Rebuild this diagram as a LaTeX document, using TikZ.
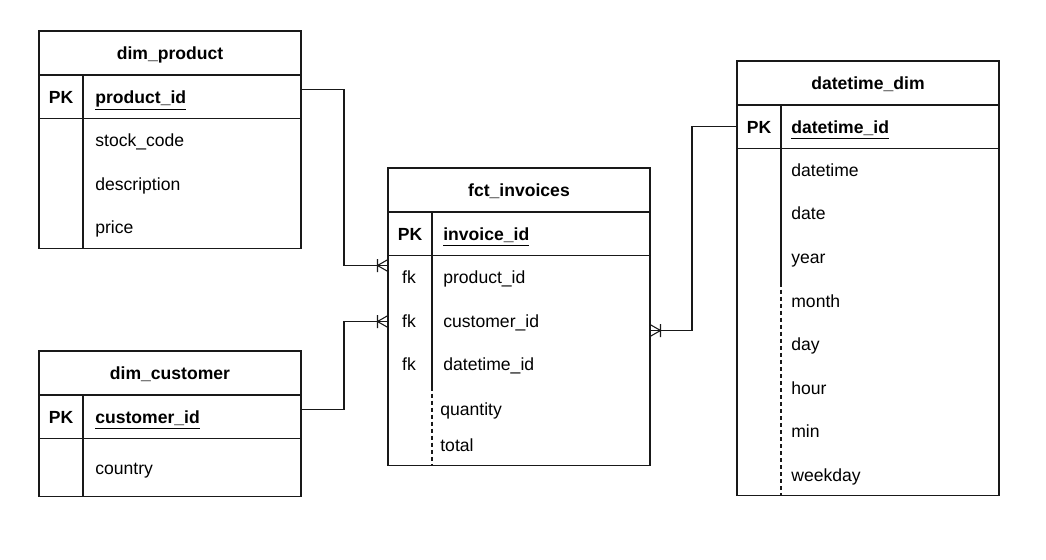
\documentclass[tikz,border=0pt]{standalone}
\usepackage{fontspec}
\setmainfont{Liberation Sans}
\usetikzlibrary{positioning,calc}
\definecolor{erline}{RGB}{25,25,25}
\tikzset{
  tablebox/.style={rectangle, draw=erline, line width=0.6pt, minimum width=5.24cm,
    inner sep=0pt, outer sep=0pt},
  headrow/.style={tablebox, minimum height=0.88cm, font=\bfseries,
    text height=8.5pt, text depth=1pt},
  keyrow/.style={tablebox, minimum height=0.87cm},
  bodyrow/.style={tablebox},
  keytag/.style={inner sep=0pt, font=\bfseries, text height=8.5pt, text depth=1pt},
  fktag/.style={inner sep=0pt, text height=8.5pt, text depth=1pt},
  field/.style={anchor=west, inner sep=0pt, text height=8.5pt, text depth=1pt},
  pkfield/.style={field, font=\bfseries},
  divider/.style={draw=erline, line width=0.6pt},
  optdivider/.style={divider, dash pattern=on 2.3pt off 1.7pt},
  link/.style={draw=erline, line width=0.6pt},
  crowfoot/.pic={\draw[link] (-0.21,0.13) -- (-0.21,-0.13)
    (-0.21,0) -- (0,0.12) (-0.21,0) -- (0,-0.12);}
}

\begin{document}
\begin{tikzpicture}[font=\fontsize{10}{12}\selectfont]
  \useasboundingbox (0,0) rectangle (20.92,-11.2);

  % --- dim_product ---
  \node[headrow, anchor=north west] (product) at (0.78,-0.62) {dim\_product};
  \node[keyrow, below=0pt of product] (product-pk) {};
  \node[bodyrow, below=0pt of product-pk, minimum height=2.6cm] (product-body) {};
  \draw[divider] ([xshift=0.88cm]product-pk.north west) -- ([xshift=0.88cm]product-body.south west);
  \node[keytag] at ([xshift=0.44cm]product-pk.west) {PK};
  \node[pkfield] at ([xshift=1.12cm]product-pk.west) {\underline{product\_id}};
  \foreach \f [count=\i] in {stock\_code, description, price}
    \node[field] at ([xshift=1.12cm, yshift={-(0.43+(\i-1)*0.87)*1cm}]product-body.north west) {\f};

  % --- dim_customer ---
  \node[headrow, anchor=north west] (customer) at (0.78,-7.02) {dim\_customer};
  \node[keyrow, below=0pt of customer] (customer-pk) {};
  \node[bodyrow, below=0pt of customer-pk, minimum height=1.16cm] (customer-body) {};
  \draw[divider] ([xshift=0.88cm]customer-pk.north west) -- ([xshift=0.88cm]customer-body.south west);
  \node[keytag] at ([xshift=0.44cm]customer-pk.west) {PK};
  \node[pkfield] at ([xshift=1.12cm]customer-pk.west) {\underline{customer\_id}};
  \node[field] at ([xshift=1.12cm]customer-body.west) {country};

  % --- fct_invoices ---
  \node[headrow, anchor=north west] (invoice) at (7.76,-3.36) {fct\_invoices};
  \node[keyrow, below=0pt of invoice] (invoice-pk) {};
  \node[bodyrow, below=0pt of invoice-pk, minimum height=4.2cm] (invoice-body) {};
  \draw[divider] ([xshift=0.88cm]invoice-pk.north west) -- ([xshift=0.88cm, yshift=-2.62cm]invoice-body.north west);
  \draw[optdivider] ([xshift=0.88cm, yshift=-2.62cm]invoice-body.north west) -- ([xshift=0.88cm]invoice-body.south west);
  \node[keytag] at ([xshift=0.44cm]invoice-pk.west) {PK};
  \node[pkfield] at ([xshift=1.1cm]invoice-pk.west) {\underline{invoice\_id}};
  \foreach \f [count=\i] in {product\_id, customer\_id, datetime\_id} {
    \node[fktag] at ([xshift=0.42cm, yshift={-(0.43+(\i-1)*0.87)*1cm}]invoice-body.north west) {fk};
    \node[field] at ([xshift=1.1cm, yshift={-(0.43+(\i-1)*0.87)*1cm}]invoice-body.north west) {\f};
  }
  \node[field] at ([xshift=1.04cm, yshift=-3.06cm]invoice-body.north west) {quantity};
  \node[field] at ([xshift=1.04cm, yshift=-3.78cm]invoice-body.north west) {total};

  % --- datetime_dim ---
  \node[headrow, anchor=north west] (datetime) at (14.74,-1.22) {datetime\_dim};
  \node[keyrow, below=0pt of datetime] (datetime-pk) {};
  \node[bodyrow, below=0pt of datetime-pk, minimum height=6.94cm] (datetime-body) {};
  \draw[divider] ([xshift=0.88cm]datetime-pk.north west) -- ([xshift=0.88cm, yshift=-2.68cm]datetime-body.north west);
  \draw[optdivider] ([xshift=0.88cm, yshift=-2.68cm]datetime-body.north west) -- ([xshift=0.88cm]datetime-body.south west);
  \node[keytag] at ([xshift=0.44cm]datetime-pk.west) {PK};
  \node[pkfield] at ([xshift=1.08cm]datetime-pk.west) {\underline{datetime\_id}};
  \foreach \f [count=\i] in {datetime, date, year, month, day, hour, min, weekday}
    \node[field] at ([xshift=1.08cm, yshift={-(0.42+(\i-1)*0.873)*1cm}]datetime-body.north west) {\f};

  % ---------------- relations ----------------
  \draw[link] ([yshift=0.15cm]product-pk.east) -- ++(0.86cm,0)
    |- ([yshift=-0.2cm]invoice-body.north west) pic {crowfoot};
  \draw[link] ([yshift=0.15cm]customer-pk.east) -- ++(0.86cm,0)
    |- ([yshift=-1.32cm]invoice-body.north west) pic {crowfoot};
  \draw[link] (datetime-pk.west) -- ++(-0.9cm,0)
    |- ([yshift=-1.5cm]invoice-body.north east) pic[rotate=180] {crowfoot};

\end{tikzpicture}
\end{document}
